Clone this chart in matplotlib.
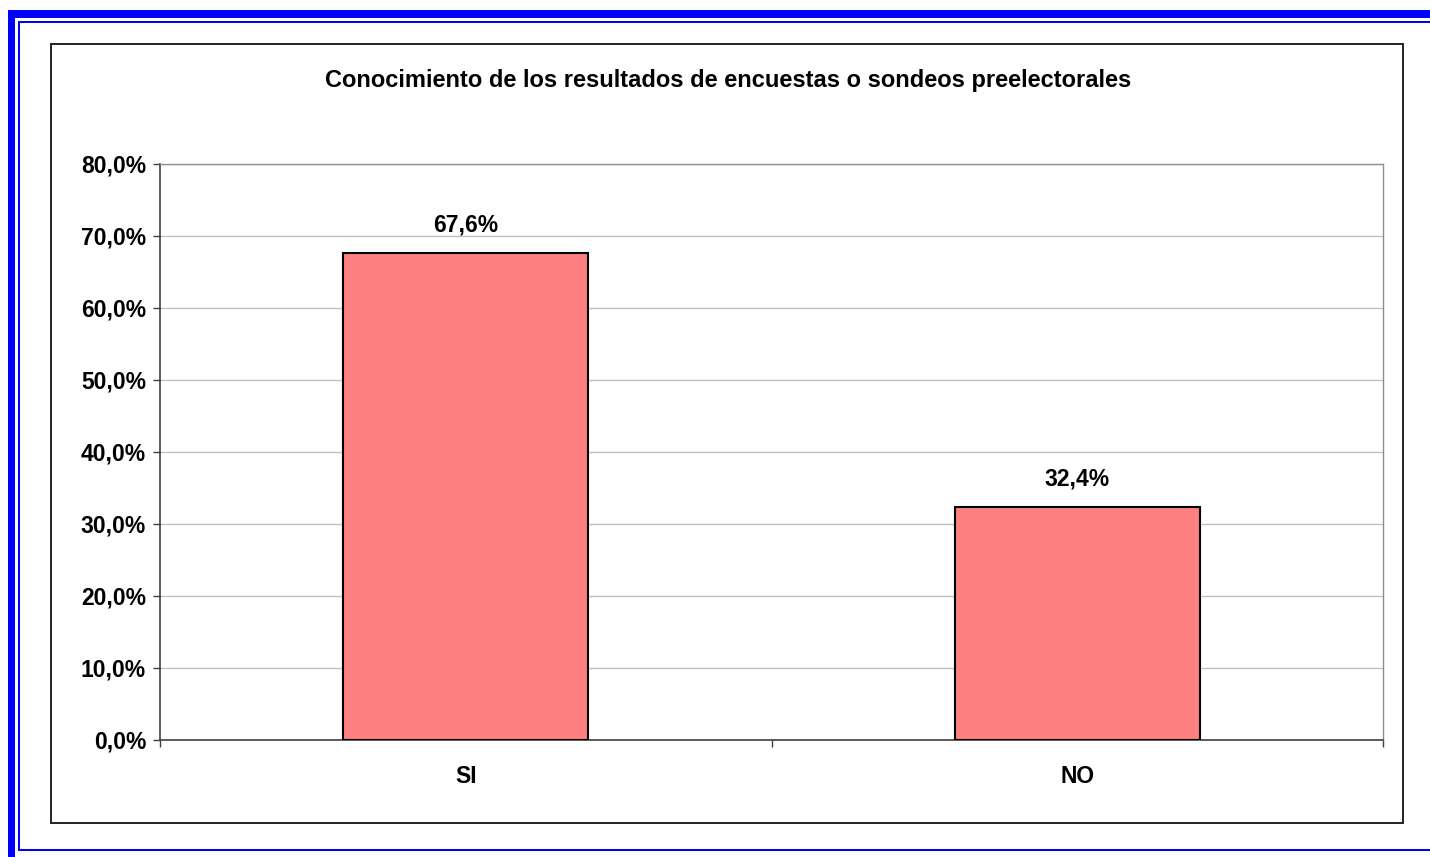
import matplotlib
matplotlib.use("Agg")
import matplotlib.pyplot as plt
from matplotlib.patches import Rectangle
from matplotlib.ticker import FixedLocator

categories = ["SI", "NO"]
values = [67.6, 32.4]
value_labels = ["67,6%", "32,4%"]
y_ticks = [0, 10, 20, 30, 40, 50, 60, 70, 80]
y_tick_labels = ["0,0%", "10,0%", "20,0%", "30,0%", "40,0%", "50,0%", "60,0%", "70,0%", "80,0%"]
title = "Conocimiento de los resultados de encuestas o sondeos preelectorales"

W, H = 1430, 857
plt.rcParams['font.family'] = ['Liberation Sans', 'DejaVu Sans']
fig = plt.figure(figsize=(W / 100, H / 100), dpi=100)
fig.patch.set_facecolor("white")

def fx(x):
    return x / W

def fy(y):
    return 1 - y / H

def prect(x0, y0, x1, y1, **kw):
    fig.add_artist(Rectangle((fx(x0), fy(y1)), fx(x1) - fx(x0), fy(y0) - fy(y1),
                             transform=fig.transFigure, **kw))

blue = "#0000FF"
# decorative blue page border
prect(8, 10, W + 5, 18, facecolor=blue, edgecolor="none")
prect(8, 10, 15, H + 5, facecolor=blue, edgecolor="none")
prect(18, 21, W + 5, 23, facecolor=blue, edgecolor="none")
prect(18, 21, 20, 851, facecolor=blue, edgecolor="none")
prect(18, 849, W + 5, 851, facecolor=blue, edgecolor="none")

# chart frame
prect(51, 44, 1403, 823, facecolor="none", edgecolor="#222222", linewidth=1.4)

FS = 16.5
ax = fig.add_axes([fx(160), fy(740), fx(1383) - fx(160), fy(164) - fy(740)])
x = list(range(len(categories)))
ax.bar(x, values, width=0.4, color="#FF8080", edgecolor="black", linewidth=1.5, zorder=3)
ax.set_xlim(-0.5, len(categories) - 0.5)
ax.set_ylim(0, 80)

ax.set_yticks(y_ticks)
ax.set_yticklabels(y_tick_labels, fontsize=FS, fontweight="bold")
ax.tick_params(axis="y", direction="out", length=5, width=1, color="#404040", pad=5)
ax.yaxis.grid(True, color="#C0C0C0", linewidth=1, zorder=0)
ax.set_axisbelow(True)

ax.set_xticks(x)
ax.set_xticklabels(categories, fontsize=FS, fontweight="bold")
ax.tick_params(axis="x", which="major", length=0, pad=18)
ax.xaxis.set_minor_locator(FixedLocator([i - 0.5 for i in range(len(categories) + 1)]))
ax.tick_params(axis="x", which="minor", direction="out", length=5, width=1, color="#404040")

for s in ["left", "bottom"]:
    ax.spines[s].set_color("#404040")
    ax.spines[s].set_linewidth(1.2)
for s in ["top", "right"]:
    ax.spines[s].set_color("#909090")
    ax.spines[s].set_linewidth(1)

for xi, v, lab in zip(x, values, value_labels):
    ax.annotate(lab, (xi, v), xytext=(0, 12), textcoords="offset points",
                ha="center", va="bottom", fontsize=FS, fontweight="bold")

fig.text(fx(728.5), fy(80), title, ha="center", va="center", fontsize=17, fontweight="bold")

fig.savefig("out.png", dpi=100, facecolor="white")
